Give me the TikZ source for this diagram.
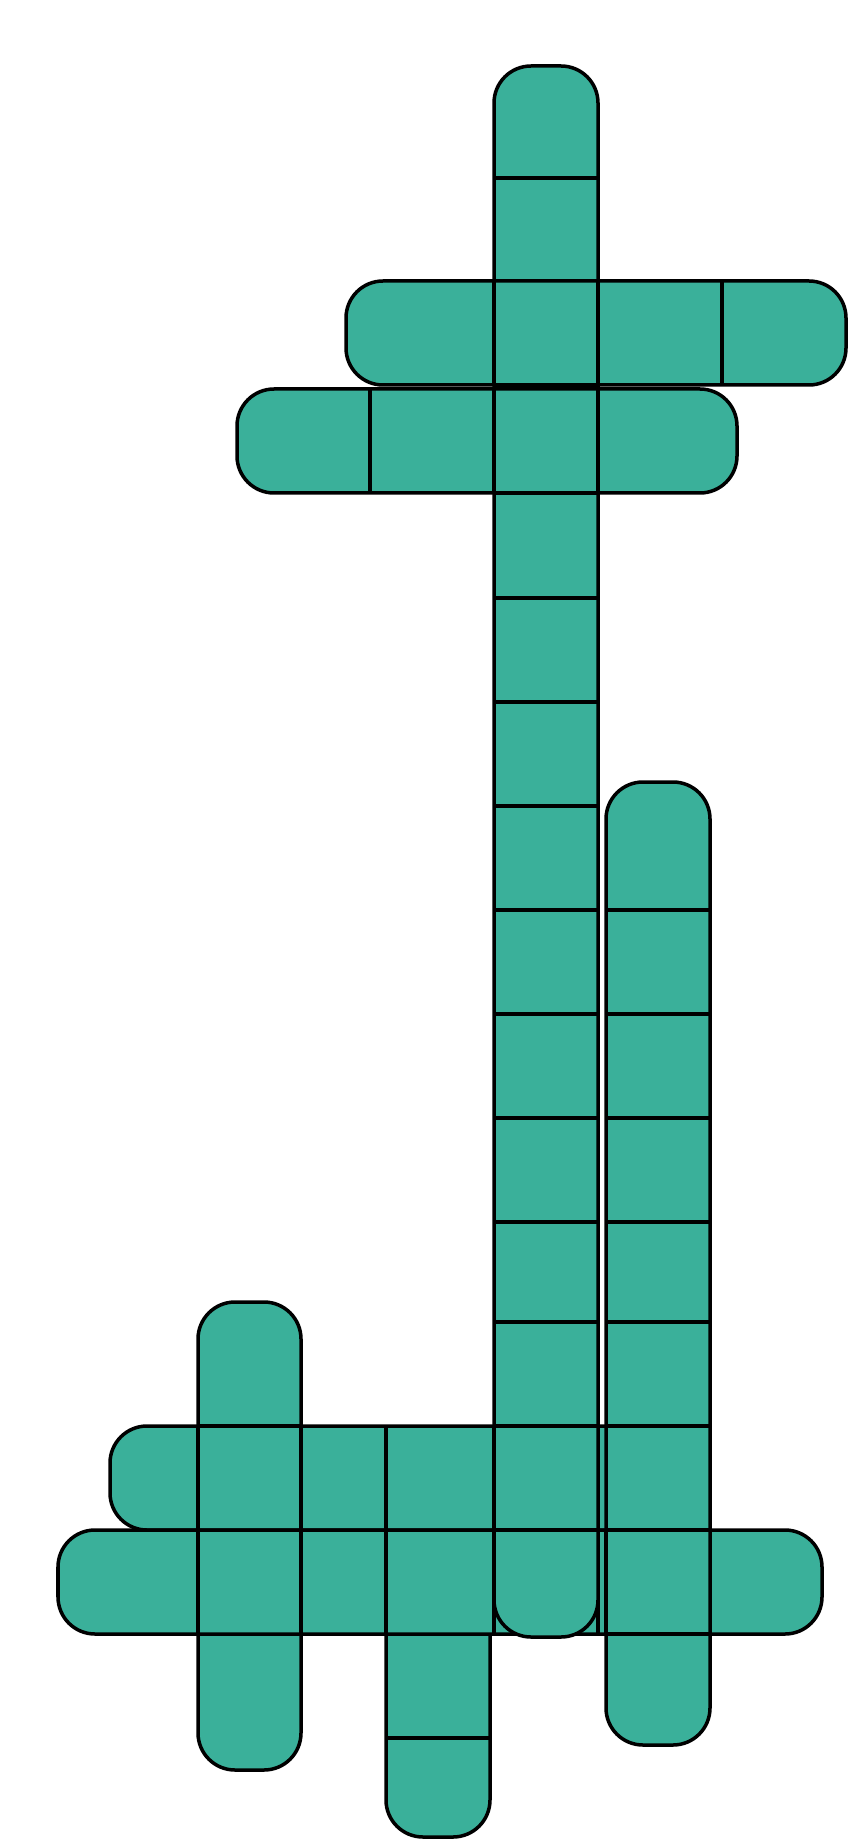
\documentclass[tikz,border=0pt]{standalone}
\usepackage{xcolor}
\usepackage{tikz}
\definecolor{wordgreen}{RGB}{58, 176, 154}

\begin{document}
\begin{tikzpicture}[x=0.01cm, y=-0.01cm,
      word/.style={draw=black, fill=wordgreen, line width=0.035cm, rounded corners=0.37cm},
      cell/.style={draw=black, line width=0.035cm}]
    \useasboundingbox (0,0) rectangle (848,1840);
    % short vertical words at the bottom
    \draw[word] (386,1500) rectangle (490,1837);
    \draw[cell] (386,1738) -- (490,1738);
    \draw[word] (198,1302) rectangle (301,1770);
    \foreach \y in {1426,1530,1634} \draw[cell] (198,\y) -- (301,\y);
    % the two bottom rows
    \draw[word] (110,1426) rectangle (690,1530);
    \foreach \x in {198,301,386,494,598} \draw[cell] (\x,1426) -- (\x,1530);
    \draw[word] (58,1530) rectangle (822,1634);
    \foreach \x in {198,301,386,494,598,606,710} \draw[cell] (\x,1530) -- (\x,1634);
    % right column
    \draw[word] (606,782) rectangle (710,1745);
    \foreach \y in {910,1014,1118,1222,1322,1426,1530,1634} \draw[cell] (606,\y) -- (710,\y);
    % long column
    \draw[word] (494,66) rectangle (598,1637);
    \foreach \y in {178,281,385,493,598,702,806,910,1014,1118,1222,1322,1426,1530}
      \draw[cell] (494,\y) -- (598,\y);
    % the two top rows
    \draw[word] (237,389) rectangle (737,493);
    \foreach \x in {370,494,598} \draw[cell] (\x,389) -- (\x,493);
    \draw[word] (346,281) rectangle (846,385);
    \foreach \x in {494,598,722} \draw[cell] (\x,281) -- (\x,385);
  \end{tikzpicture}
\end{document}
